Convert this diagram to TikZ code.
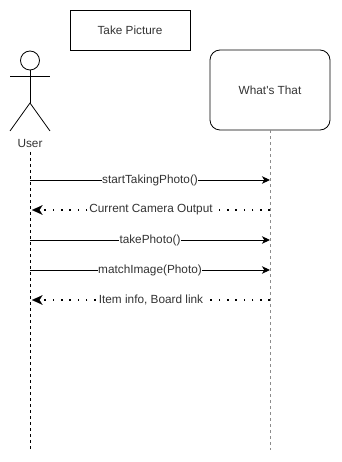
\documentclass[tikz,border=0pt]{standalone}
\usepackage{fontspec}
\setmainfont{Liberation Sans}
\usetikzlibrary{arrows.meta}
\definecolor{txt}{HTML}{333333}
\definecolor{lifegray}{HTML}{8C8C8C}
\tikzset{
  lbl/.style={font=\fontsize{11.8}{14}\selectfont, text=txt, inner sep=0.5pt},
  box/.style={draw, line width=0.8pt, lbl},
  msg/.style={line width=0.9pt, -{Stealth[length=8pt,width=7.5pt,inset=2.2pt]}},
  reply/.style={line width=1.6pt, dash pattern=on 1.6pt off 6.7pt,
    -{Stealth[length=10.5pt,width=9.5pt,inset=3pt,line width=0.1pt,sep=0pt]}},
  mlabel/.style={lbl, fill=white, inner sep=0.6pt},
}
\begin{document}
\begin{tikzpicture}[x=1pt,y=-1pt]
\useasboundingbox (0,0) rectangle (341,462);

% title frame
\node[box, minimum width=120pt, minimum height=40pt] (title) at (130,30) {Take Picture};

% actor figure
\coordinate (neck) at (30,70);
\draw[line width=0.8pt] (30,60.5) circle (9.5);
\draw[line width=0.8pt] (neck) -- (30,103) coordinate (hip);
\draw[line width=0.8pt] (10,76.5) -- (50,76.5);
\draw[line width=0.8pt] (10,131) -- (hip) -- (50,131);
\node[lbl] (user) at (30,143.5) {User};

% system participant
\node[box, rounded corners=10pt, minimum width=120pt, minimum height=80pt] (sys) at (270,90) {What\textquotesingle s That};

% lifelines
\coordinate (uTop) at (30,152);
\coordinate (uBot) at (30,450);
\coordinate (sBot) at (270,450);
\draw[line width=0.7pt, dash pattern=on 3pt off 3pt] (uTop) -- (uBot);
\draw[line width=1pt, lifegray, dash pattern=on 3pt off 3pt] (sys.south) -- (sBot);

% message endpoints on the lifelines
\foreach \n/\y in {a/180,b/210,c/240,d/270,e/300}{
  \coordinate (u\n) at (30,\y);
  \coordinate (s\n) at (270,\y);
}
\coordinate (ubx) at (32,210);
\coordinate (uex) at (32,300);

% messages
\draw[msg] (ua) -- node[mlabel] {startTakingPhoto()} (sa);
\draw[reply] (sb) -- node[mlabel] {Current Camera Output} (ubx);
\draw[msg] (uc) -- node[mlabel] {takePhoto()} (sc);
\draw[msg] (ud) -- node[mlabel] {matchImage(Photo)} (sd);
\draw[reply] (se) -- node[mlabel] {Item info, Board link} (uex);
\end{tikzpicture}
\end{document}
